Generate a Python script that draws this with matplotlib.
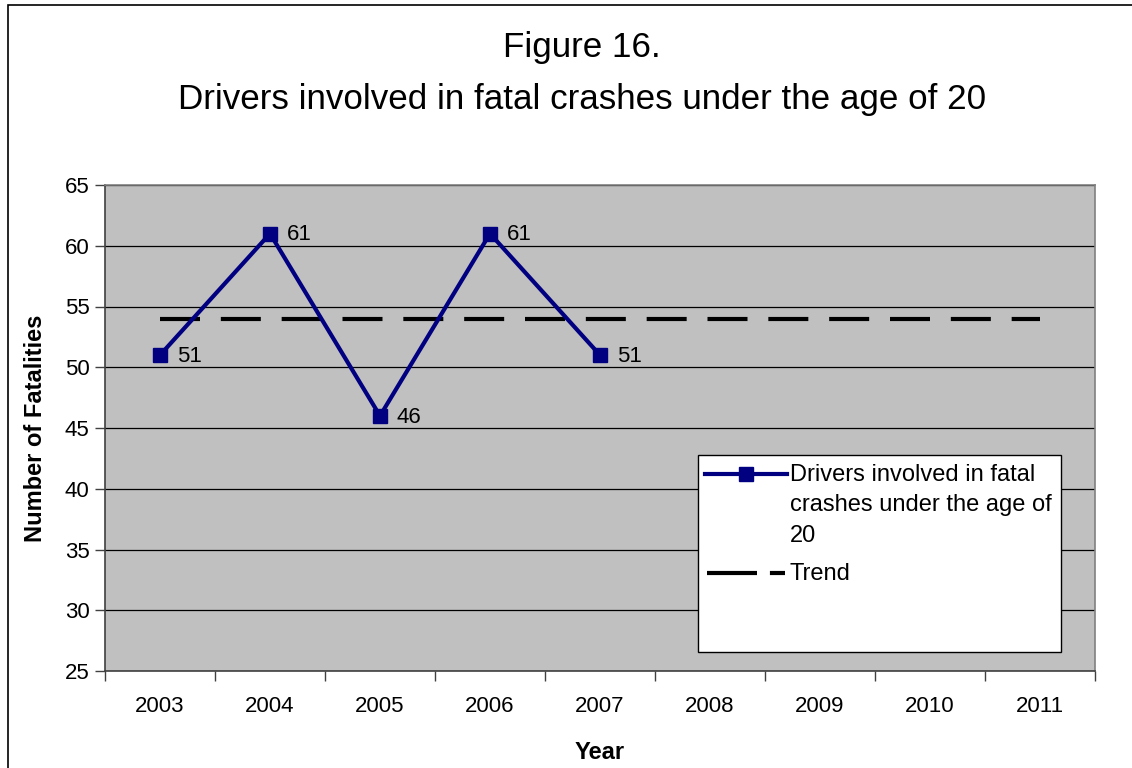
import matplotlib.pyplot as plt
from matplotlib.patches import Rectangle
from matplotlib.lines import Line2D

plt.rcParams["font.family"] = ["Liberation Sans", "DejaVu Sans"]

years = ["2003", "2004", "2005", "2006", "2007", "2008", "2009", "2010", "2011"]
drivers = [51, 61, 46, 61, 51]
trend_value = 54
series_label = "Drivers involved in fatal\ncrashes under the age of\n20"
trend_label = "Trend"

W, H = 1132, 768
fig = plt.figure(figsize=(W / 100, H / 100), dpi=100)
fig.patch.set_facecolor("white")

# plot area in pixel terms from the reference
left, right, top, bottom = 105, 1095, 185, 671
ax = fig.add_axes([left / W, 1 - bottom / H, (right - left) / W, (bottom - top) / H])
ax.set_facecolor("#c0c0c0")


def px(x, y):
    # pixel position (from top-left) -> axes fraction
    return (x - left) / (right - left), (bottom - y) / (bottom - top)


navy = "#000080"
x_all = list(range(len(years)))
x_data = x_all[:len(drivers)]

ax.plot(x_data, drivers, color=navy, lw=3, marker="s", markersize=10, zorder=4)
trend, = ax.plot([x_all[0], x_all[-1]], [trend_value] * 2, color="black", lw=3, zorder=3)
trend.set_dashes((9.6, 5.0))

for x, v in zip(x_data, drivers):
    ax.annotate(str(v), (x, v), xytext=(12, -1), textcoords="offset points",
                ha="left", va="center", fontsize=16)

ax.set_xlim(-0.5, len(years) - 0.5)
ax.set_ylim(25, 65)
ax.set_yticks(range(25, 66, 5))
ax.yaxis.grid(True, color="black", lw=0.9)
ax.set_axisbelow(True)

ax.set_xticks(x_all)
ax.set_xticklabels(years, fontsize=16)
ax.set_xticks([i - 0.5 for i in range(len(years) + 1)], minor=True)
ax.tick_params(axis="x", which="major", length=0, pad=18)
ax.tick_params(axis="x", which="minor", length=7, width=1, color="#404040")
ax.tick_params(axis="y", labelsize=16, length=7, width=1, color="#404040", pad=4)

for s in ["left", "bottom"]:
    ax.spines[s].set_color("#404040")
    ax.spines[s].set_linewidth(1.2)
for s in ["top", "right"]:
    ax.spines[s].set_color("#808080")
    ax.spines[s].set_linewidth(1.2)

ax.set_xlabel("Year", fontsize=17, fontweight="bold", labelpad=17)
ax.set_ylabel("Number of Fatalities", fontsize=17, fontweight="bold", labelpad=13)

# legend drawn by hand (Excel style: tall box, handle at first text line)
x0, y0 = px(698, 652)
x1, y1 = px(1061, 455)
ax.add_patch(Rectangle((x0, y0), x1 - x0, y1 - y0, transform=ax.transAxes,
                       facecolor="white", edgecolor="black", lw=1, zorder=5))
(hx0, hy), (hx1, _) = px(705, 474), px(787, 474)
ax.add_line(Line2D([hx0, hx1], [hy, hy], transform=ax.transAxes, color=navy, lw=3,
                   zorder=6, clip_on=False))
ax.add_line(Line2D([(hx0 + hx1) / 2], [hy], transform=ax.transAxes, color=navy,
                   marker="s", markersize=10, zorder=7, clip_on=False))
for i, line in enumerate(series_label.split("\n")):
    tx, ty = px(790, 475 + 30.5 * i)
    ax.text(tx, ty, line, transform=ax.transAxes, fontsize=17, ha="left",
            va="center", zorder=7)
(tx0, ty), (tx1, _) = px(707, 573), px(785, 573)
tl = Line2D([tx0, tx1], [ty, ty], transform=ax.transAxes, color="black", lw=3,
            zorder=6, clip_on=False)
tl.set_dashes((12, 3.1))
ax.add_line(tl)
tx, ty = px(790, 574)
ax.text(tx, ty, trend_label, transform=ax.transAxes, fontsize=17, ha="left",
        va="center", zorder=7)

fig.text(582 / W, 1 - 48 / H, "Figure 16.", ha="center", va="center", fontsize=25.2)
fig.text(582 / W, 1 - 100 / H, "Drivers involved in fatal crashes under the age of 20",
         ha="center", va="center", fontsize=25.2)

# outer chart border, cut off at the right and bottom
fig.add_artist(Rectangle((8 / W, -0.1), 1.2, 1.1 - 5 / H, transform=fig.transFigure,
                         fill=False, edgecolor="black", lw=1.2))

fig.savefig("out.png", dpi=100)
